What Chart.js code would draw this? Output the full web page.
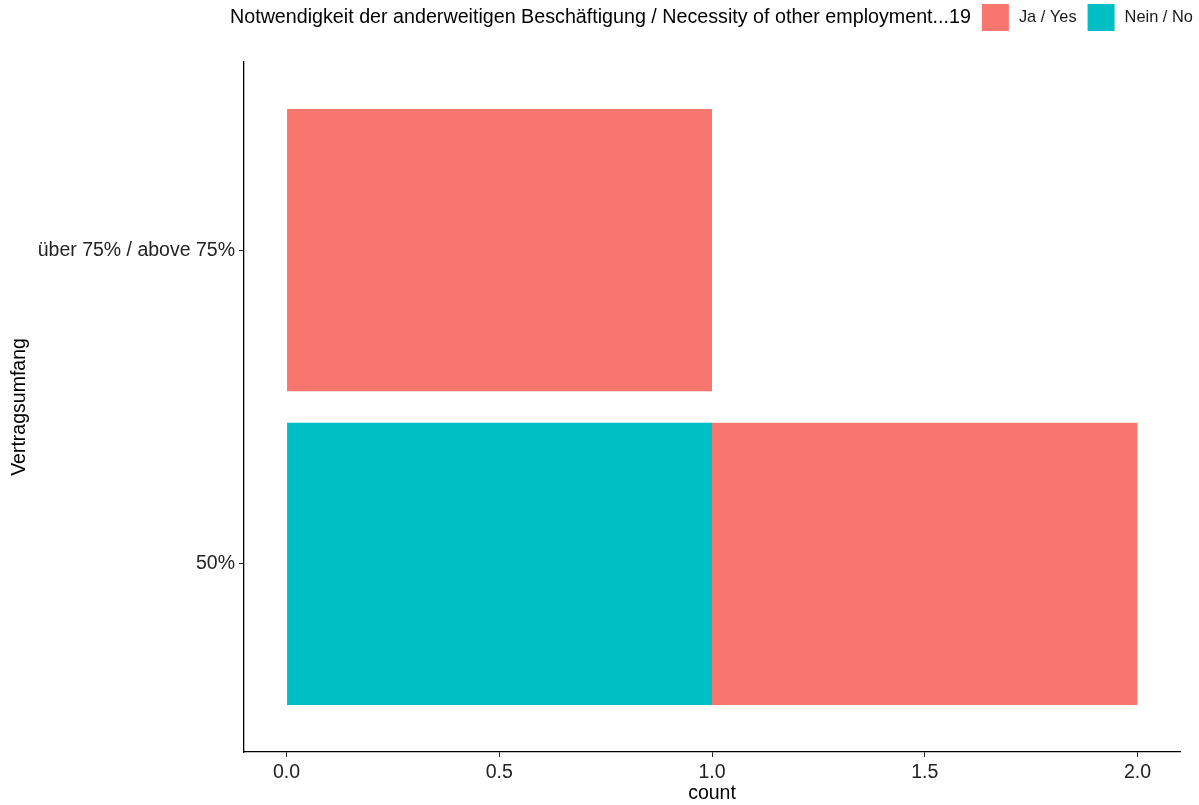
<!DOCTYPE html>
<html><head><meta charset="utf-8">
<script src="https://cdn.jsdelivr.net/npm/chart.js@4"></script>
<style>html,body{margin:0;padding:0;background:#fff;overflow:hidden}#wrap{width:1199px;height:805px;position:relative}</style>
</head><body><div id="wrap"><canvas id="c" width="1199" height="805"></canvas></div>
<script>
const categories = ['über 75% / above 75%', '50%'];
const seriesNames = ['Ja / Yes', 'Nein / No'];
const jaValues = [1, 1];
const neinValues = [0, 1];
const xTicks = [0, 0.5, 1, 1.5, 2];
const legendTitle = 'Notwendigkeit der anderweitigen Beschäftigung / Necessity of other employment...19';
const xTitle = 'count';
const yTitle = 'Vertragsumfang';
const seriesColors = ['#F8766D', '#00BFC4'];

const FONT = '"Liberation Sans", Arial, sans-serif';
const valuesBySeries = [jaValues, neinValues];

// stacking order: "Nein" at the base (left), "Ja" stacked after it
const datasets = [1, 0].map(si => ({
  label: seriesNames[si],
  data: valuesBySeries[si].map((v, i) => ({ x: v, y: i + 1 })),
  backgroundColor: seriesColors[si],
  borderWidth: 0,
  barPercentage: 0.9,
  categoryPercentage: 1.0
}));

const legendPlugin = {
  id: 'ggLegend',
  afterDraw(chart) {
    const ctx = chart.ctx;
    ctx.save();
    ctx.textBaseline = 'middle';
    ctx.textAlign = 'left';
    const cy = 17.5;
    let x = 230;
    ctx.fillStyle = '#000';
    ctx.font = '19.7px ' + FONT;
    ctx.fillText(legendTitle, x, cy);
    x += ctx.measureText(legendTitle).width + 11;
    ctx.font = '16.4px ' + FONT;
    seriesNames.forEach((name, i) => {
      ctx.fillStyle = seriesColors[i];
      ctx.fillRect(x, 4, 27, 27);
      x += 27 + 10;
      ctx.fillStyle = '#1a1a1a';
      ctx.fillText(name, x, cy);
      x += ctx.measureText(name).width + 11;
    });
    ctx.restore();
  }
};

new Chart(document.getElementById('c'), {
  type: 'bar',
  data: { datasets },
  plugins: [legendPlugin],
  options: {
    indexAxis: 'y',
    responsive: false,
    animation: false,
    layout: { padding: { top: 62, right: 19, bottom: 0, left: 0 } },
    plugins: { legend: { display: false }, tooltip: { enabled: false } },
    scales: {
      x: {
        type: 'linear', min: -0.1, max: 2.1, stacked: true,
        afterBuildTicks: s => { s.ticks = xTicks.map(v => ({ value: v })); },
        afterFit: s => { s.height = 53; },
        ticks: { callback: v => Number(v).toFixed(1), font: { size: 19.5, family: FONT }, color: '#222', padding: 4, maxRotation: 0 },
        grid: { display: true, drawOnChartArea: false, drawTicks: true, tickLength: 5, tickColor: '#222', tickWidth: 1 },
        border: { display: true, color: '#000', width: 1.3 },
        title: { display: true, text: xTitle, font: { size: 19.5, family: FONT }, color: '#000', padding: { top: 0, bottom: 0 } }
      },
      y: {
        type: 'linear', min: 0.4, max: 2.6, reverse: true, stacked: true, offset: false,
        afterBuildTicks: s => { s.ticks = categories.map((c, i) => ({ value: i + 1 })); },
        afterFit: s => { s.width = 244; },
        ticks: { callback: v => categories[v - 1], font: { size: 19.5, family: FONT }, color: '#222', padding: 4 },
        grid: { display: true, offset: false, drawOnChartArea: false, drawTicks: true, tickLength: 5, tickColor: '#222', tickWidth: 1 },
        border: { display: true, color: '#000', width: 1.3 },
        title: { display: true, text: yTitle, font: { size: 19.5, family: FONT }, color: '#000', padding: { top: 8, bottom: 0 } }
      }
    }
  }
});
</script></body></html>
